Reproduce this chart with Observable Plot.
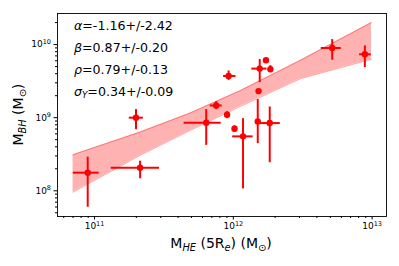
<!DOCTYPE html>
<html>
<head>
<meta charset="utf-8">
<script src="https://cdn.jsdelivr.net/npm/d3@7"></script>
<script src="https://cdn.jsdelivr.net/npm/@observablehq/plot@0.6"></script>
<style>
  html, body { margin: 0; padding: 0; background: white; }
  #chart svg { display: block; overflow: visible; }
</style>
</head>
<body>
<div id="chart"></div>
<script>
// ---- data ----
const mhe    = [8.93e10, 2.13e11, 1.99e11, 6.38e11, 7.53e11, 9.02e11, 1.02e12, 1.175e12, 9.25e11, 1.55e12, 1.72e12, 1.85e12, 1.52e12, 1.50e12, 1.83e12, 5.16e12, 8.87e12];
const mheLo  = [7.03e10, 1.32e11, 1.78e11, 4.42e11, 6.82e11, null,    null,    9.89e11,  8.51e11, 1.36e12, null,    null,    null,    null,    1.51e12, 4.30e12, 8.13e12];
const mheHi  = [1.08e11, 2.94e11, 2.25e11, 8.18e11, 8.32e11, null,    null,    1.39e12,  1.045e12,1.75e12, null,    null,    null,    null,    2.18e12, 6.00e12, 9.86e12];
const mbh    = [1.77e8,  2.07e8,  1.00e9,  8.54e8,  1.47e9,  1.10e9,  7.06e8,  5.55e8,   3.72e9,  4.69e9,  6.10e9,  4.59e9,  2.31e9,  8.90e8,  8.44e8,  8.98e9,  7.36e9];
const mbhLo  = [5.96e7,  1.46e8,  6.85e8,  4.18e8,  1.29e9,  9.69e8,  6.29e8,  1.06e8,   3.24e9,  3.01e9,  null,    4.27e9,  null,    4.41e8,  2.42e8,  6.10e9,  4.84e9];
const mbhHi  = [2.89e8,  2.54e8,  1.29e9,  1.29e9,  1.66e9,  1.21e9,  7.77e8,  9.69e8,   4.35e9,  6.24e9,  null,    5.15e9,  null,    1.77e9,  1.40e9,  1.17e10, 9.57e9];

// fitted band
const bandX  = [7.0e10, 2.13e11, 4.90e11, 1.12e12, 3.05e12, 9.9e12];
const bandLo = [9.57e7, 3.05e8,  6.70e8,  1.42e9,  3.42e9,  6.30e9];
const bandHi = [3.11e8, 6.35e8,  1.16e9,  2.34e9,  6.10e9,  2.00e10];

// ticks
const xMajor = [1e11, 1e12, 1e13];
const xMinor = [6e10, 7e10, 8e10, 9e10, 2e11, 3e11, 4e11, 5e11, 6e11, 7e11, 8e11, 9e11, 2e12, 3e12, 4e12, 5e12, 6e12, 7e12, 8e12, 9e12];
const yMajor = [1e8, 1e9, 1e10];
const yMinor = [5e7, 6e7, 7e7, 8e7, 9e7, 2e8, 3e8, 4e8, 5e8, 6e8, 7e8, 8e8, 9e8, 2e9, 3e9, 4e9, 5e9, 6e9, 7e9, 8e9, 9e9, 2e10];

// fit parameters (text)
const statNames  = ["α", "β", "ρ", "σ"];
const statSubs   = ["", "", "", "Y"];
const statValues = ["=-1.16+/-2.42", "=0.87+/-0.20", "=0.79+/-0.13", "=0.34+/-0.09"];

// ---- build ----
const pts = mhe.map((x, i) => ({x, xlo: mheLo[i], xhi: mheHi[i], y: mbh[i], ylo: mbhLo[i], yhi: mbhHi[i]}));
const band = bandX.map((x, i) => ({x, lo: bandLo[i], hi: bandHi[i]}));
const expFmt = d => "10^" + Math.round(Math.log10(d));

const chart = Plot.plot({
  width: 399,
  height: 266,
  marginLeft: 57,
  marginRight: 13,
  marginTop: 13,
  marginBottom: 50,
  style: {fontFamily: "DejaVu Sans", fontSize: "9px", background: "white", color: "black"},
  x: {type: "log", domain: [5.41e10, 1.27e13], label: null},
  y: {type: "log", domain: [4.45e7, 2.66e10], label: null},
  marks: [
    Plot.areaY(band, {x: "x", y1: "lo", y2: "hi", fill: "#ff0000", fillOpacity: 0.3}),
    Plot.line(band, {x: "x", y: "lo", stroke: "#ff0000", strokeOpacity: 0.35, strokeWidth: 1}),
    Plot.line(band, {x: "x", y: "hi", stroke: "#ff0000", strokeOpacity: 0.35, strokeWidth: 1}),
    Plot.ruleY(pts.filter(d => d.xlo != null), {y: "y", x1: "xlo", x2: "xhi", stroke: "#ff0000", strokeWidth: 2}),
    Plot.ruleX(pts.filter(d => d.ylo != null), {x: "x", y1: "ylo", y2: "yhi", stroke: "#ff0000", strokeWidth: 2}),
    Plot.dot(pts, {x: "x", y: "y", r: 3.2, fill: "#ff0000"}),
    Plot.axisX(xMajor, {tickSize: 3.5, tickPadding: 3, tickFormat: expFmt, label: null, stroke: "black"}),
    Plot.axisX(xMinor, {tickSize: 2, tickFormat: () => "", label: null, stroke: "black"}),
    Plot.axisY(yMajor, {tickSize: 3.5, tickPadding: 3, tickFormat: expFmt, label: null, stroke: "black"}),
    Plot.axisY(yMinor, {tickSize: 2, tickFormat: () => "", label: null, stroke: "black"}),
    Plot.frame({stroke: "black", strokeWidth: 0.9})
  ]
});

document.getElementById("chart").appendChild(chart);

// superscript exponents in tick labels
const svg = d3.select(chart);
svg.selectAll("text").each(function () {
  const t = d3.select(this);
  const s = t.text();
  const m = /^10\^(\d+)$/.exec(s);
  if (m) {
    t.text("10");
    t.append("tspan").attr("font-size", "6.5px").attr("dy", "-0.6em").text(m[1]);
  }
});

const NS = "DejaVu Sans";
// fit statistics annotations
const ann = svg.append("g").attr("font-family", NS).attr("font-size", "12.6px").attr("fill", "black").attr("text-anchor", "start");
statNames.forEach((n, i) => {
  const t = ann.append("text").attr("x", 74).attr("y", 29.8 + i * 21.9).attr("text-anchor", "start");
  t.append("tspan").attr("font-style", "italic").text(n);
  if (statSubs[i]) {
    t.append("tspan").attr("font-style", "italic").attr("font-size", "8.8px").attr("dy", "2.8").text(statSubs[i]);
    t.append("tspan").attr("dy", "-2.8").text(statValues[i]);
  } else {
    t.append("tspan").text(statValues[i]);
  }
});

// x axis label: M_HE (5R_e) (M_⊙)
const xl = svg.append("text").attr("x", 221).attr("y", 247.5).attr("text-anchor", "middle")
  .attr("font-family", NS).attr("font-size", "14px").attr("fill", "black");
xl.append("tspan").text("M");
xl.append("tspan").attr("font-style", "italic").attr("font-size", "9.8px").attr("dy", 3).text("HE");
xl.append("tspan").attr("dy", -3).text(" (5R");
xl.append("tspan").attr("font-style", "italic").attr("font-size", "9.8px").attr("dy", 3).text("e");
xl.append("tspan").attr("dy", -3).text(") (M");
xl.append("tspan").attr("font-size", "9.8px").attr("dy", 3).text("⊙");
xl.append("tspan").attr("dy", -3).text(")");

// y axis label: M_BH (M_⊙)
const yl = svg.append("text").attr("transform", "translate(23,114.6) rotate(-90)").attr("text-anchor", "middle")
  .attr("font-family", NS).attr("font-size", "14px").attr("fill", "black");
yl.append("tspan").text("M");
yl.append("tspan").attr("font-style", "italic").attr("font-size", "9.8px").attr("dy", 3).text("BH");
yl.append("tspan").attr("dy", -3).text(" (M");
yl.append("tspan").attr("font-size", "9.8px").attr("dy", 3).text("⊙");
yl.append("tspan").attr("dy", -3).text(")");
</script>
</body>
</html>
